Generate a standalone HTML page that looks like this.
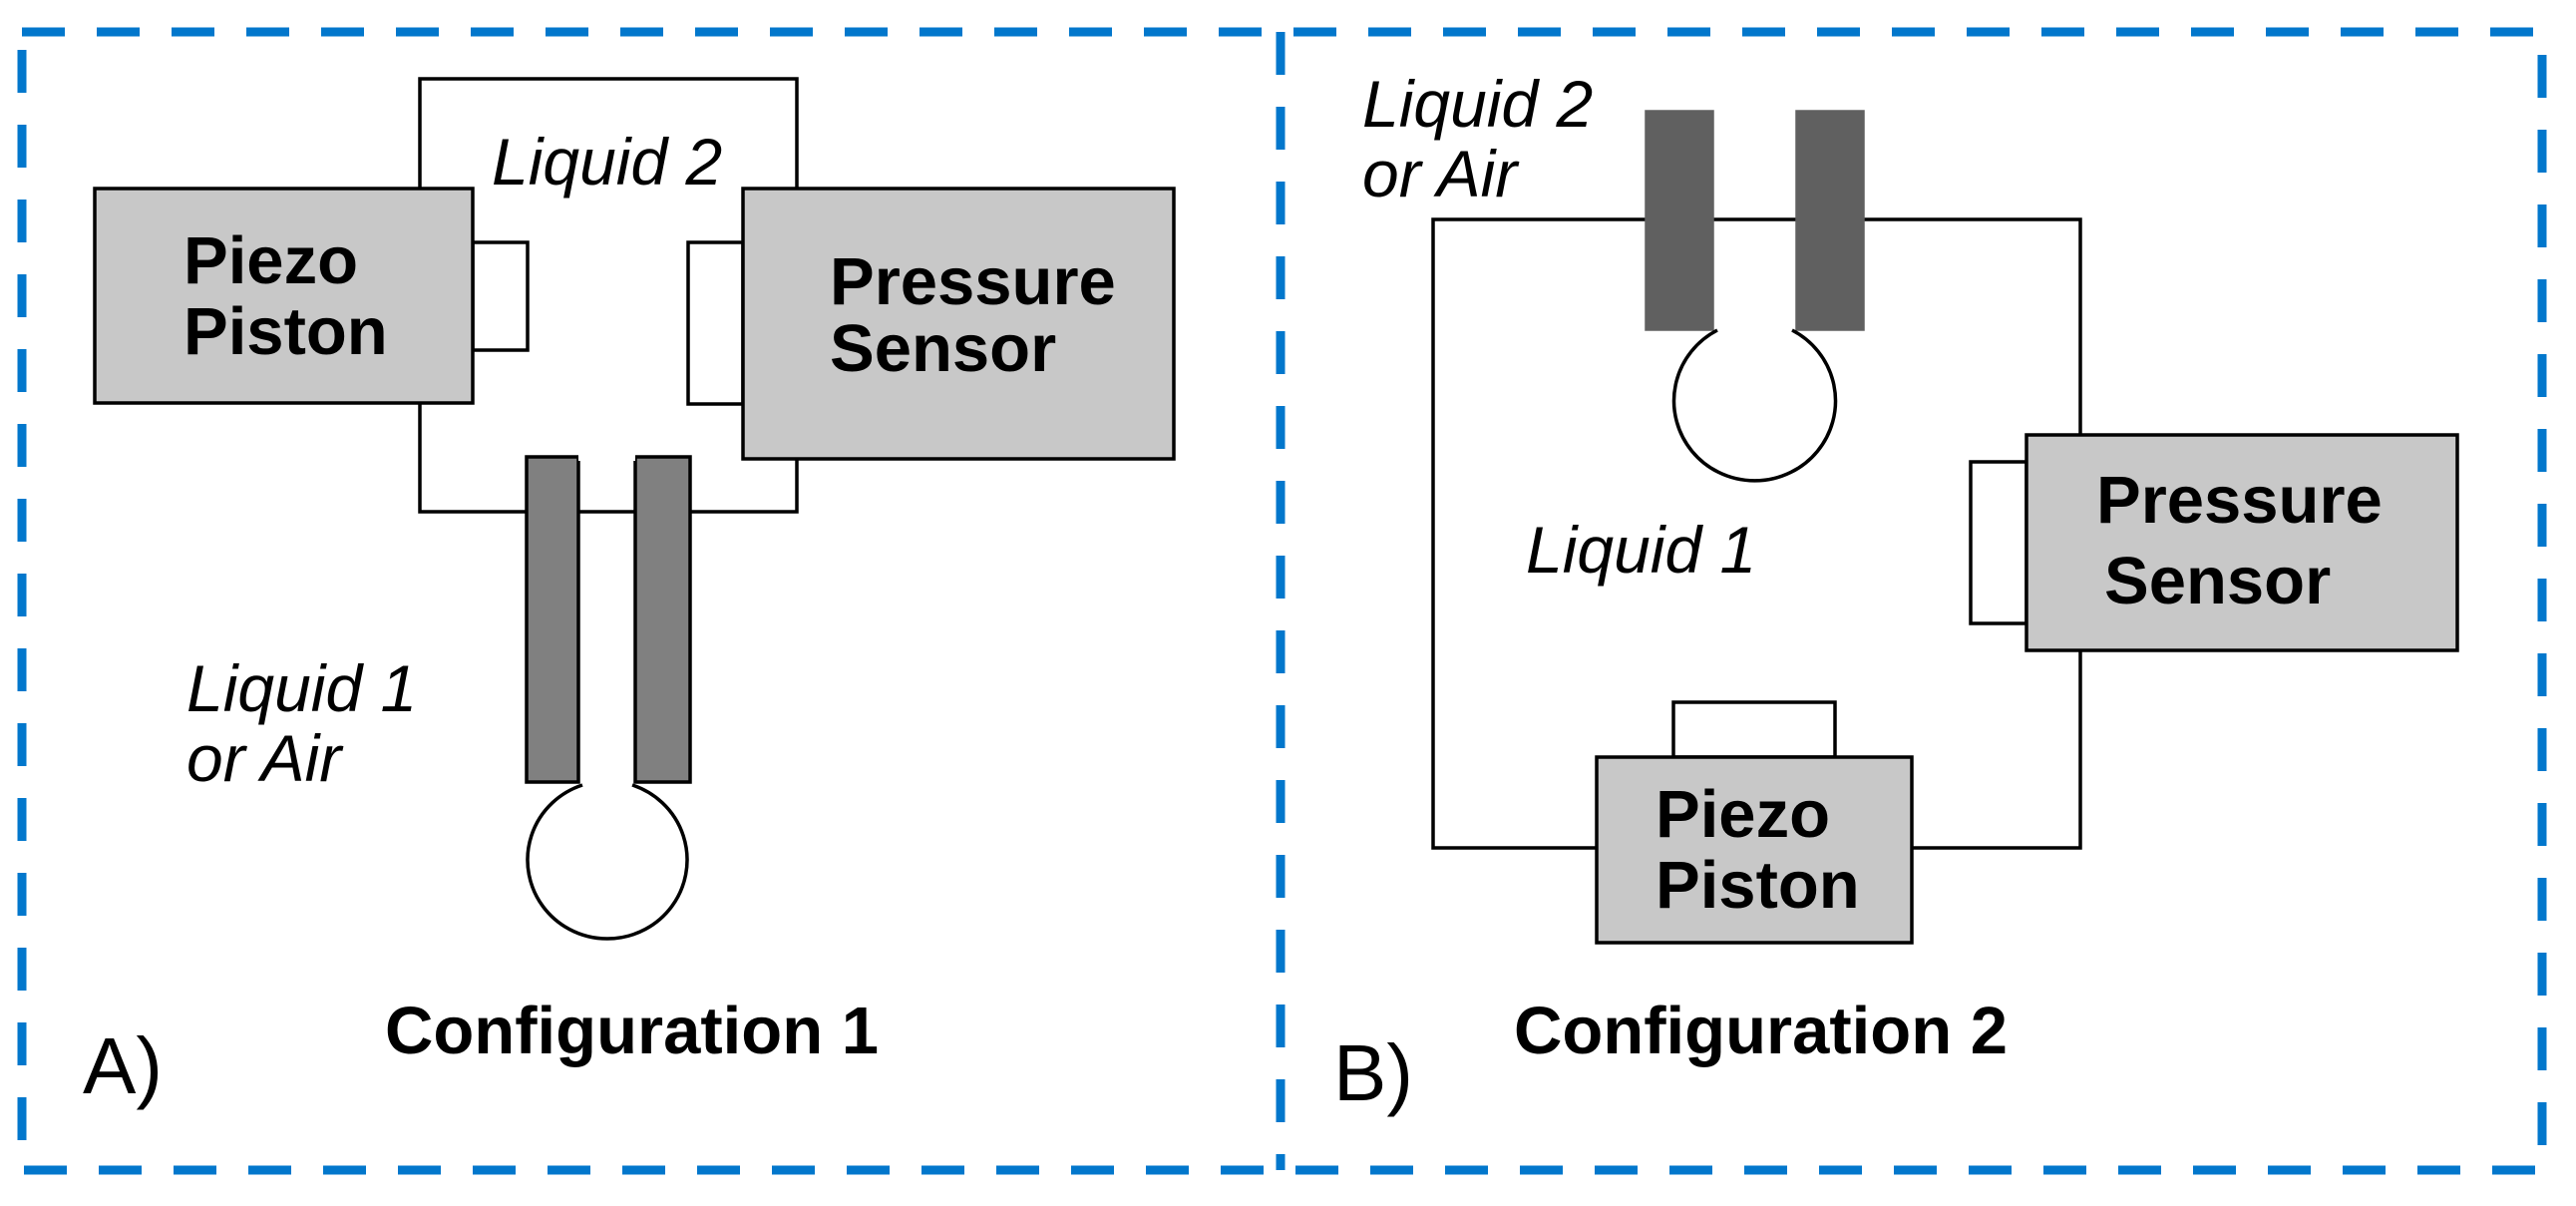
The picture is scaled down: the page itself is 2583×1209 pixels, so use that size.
<!DOCTYPE html>
<html><head><style>html,body{margin:0;padding:0;background:#fff}svg{display:block}</style></head>
<body>
<svg width="2583" height="1209" viewBox="0 0 2583 1209" xmlns="http://www.w3.org/2000/svg">
<g fill="none" stroke="#0277cc" stroke-width="9" stroke-dasharray="43 32">
<rect x="22" y="32" width="2527" height="1141"/>
<line x1="1284" y1="32" x2="1284" y2="1173"/>
</g>
<g stroke="#000" stroke-width="3.5">
<!-- Panel A -->
<rect x="421" y="79" width="378" height="434" fill="#fff"/>
<rect x="474" y="243" width="55" height="108" fill="#fff"/>
<rect x="690" y="243" width="55" height="162" fill="#fff"/>
<rect x="95" y="189" width="379" height="215" fill="#c8c8c8"/>
<rect x="745" y="189" width="432" height="271" fill="#c8c8c8"/>
<rect x="528" y="458" width="52" height="326" fill="#808080"/>
<rect x="637" y="458" width="55" height="326" fill="#808080"/>
<path d="M584 787 A80 79 0 1 0 634 787" fill="#fff"/>
<line x1="580" y1="459" x2="637" y2="459" stroke="#fff" stroke-width="6"/>
<!-- Panel B -->
<rect x="1437" y="220" width="649" height="630" fill="#fff"/>
<rect x="1651" y="112" width="66" height="218" fill="#606060" stroke="#606060"/>
<rect x="1802" y="112" width="66" height="218" fill="#606060" stroke="#606060"/>
<path d="M1722 331 A81 80 0 1 0 1797 331" fill="#fff"/>
<rect x="1976" y="463" width="56" height="162" fill="#fff"/>
<rect x="2032" y="436" width="432" height="216" fill="#c8c8c8"/>
<rect x="1678" y="704" width="162" height="55" fill="#fff"/>
<rect x="1601" y="759" width="316" height="186" fill="#c8c8c8"/>
</g>
<g font-family="Liberation Sans, sans-serif" fill="#000">
<g font-style="italic" font-size="66">
<text x="493" y="185">Liquid 2</text>
<text x="187" y="713">Liquid 1</text>
<text x="187" y="783">or Air</text>
<text x="1366" y="127">Liquid 2</text>
<text x="1366" y="197">or Air</text>
<text x="1530" y="574">Liquid 1</text>
</g>
<g font-weight="bold" font-size="67">
<text x="184" y="284">Piezo</text>
<text x="184" y="355">Piston</text>
<text x="832" y="305">Pressure</text>
<text x="832" y="372">Sensor</text>
<text x="2102" y="524">Pressure</text>
<text x="2110" y="605">Sensor</text>
<text x="1660" y="839">Piezo</text>
<text x="1660" y="910">Piston</text>
<text x="386" y="1056">Configuration 1</text>
<text x="1518" y="1056">Configuration 2</text>
</g>
<text x="83" y="1096" font-size="80">A)</text>
<text x="1337" y="1103" font-size="80">B)</text>
</g>
</svg>
</body></html>
